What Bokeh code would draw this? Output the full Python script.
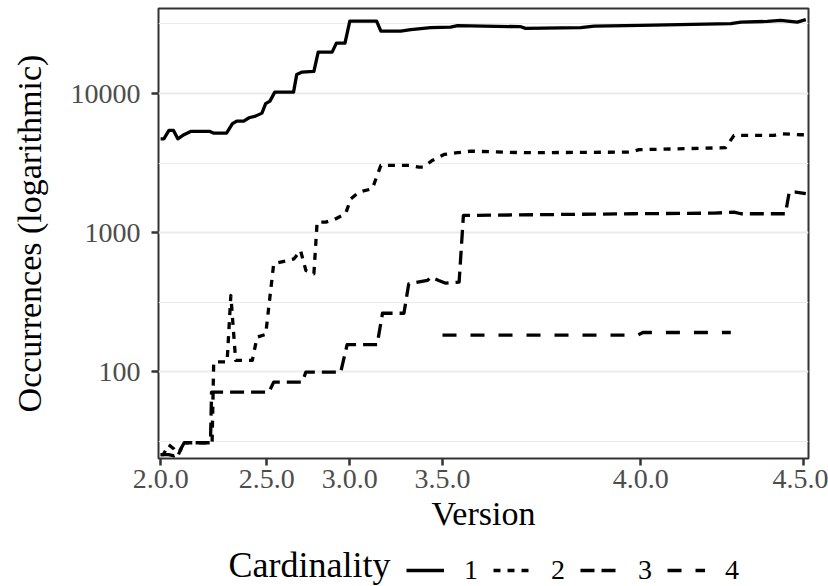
from bokeh.plotting import figure
from bokeh.models import FixedTicker, Legend, LegendItem, Grid, NumeralTickFormatter, Range1d, Label
from bokeh.layouts import column
from bokeh.embed import file_html
from bokeh.resources import INLINE

# ---- data: release position (ordered release axis) and occurrences per cardinality ----
release_c1 = [0, 0.6, 1.55, 2.4, 3.2, 4.35, 5.6, 9.2, 9.95, 12.3, 13.4, 14.2, 15.5, 16.5, 17.7,
              18.9, 19.6, 20.4, 21.3, 24.8, 25.4, 26.4, 28.6, 29.4, 32.0, 32.8, 34.4, 35.3,
              40.3, 41.1, 44.8, 46.7, 50.4, 54.1, 55.4, 67.2, 68.1, 78.4, 80.9, 89.6, 106.4,
              108.3, 113.2, 115.7, 118.8, 120.4]
occurrences_c1 = [4730, 4730, 5430, 5430, 4730, 5060, 5340, 5340, 5190, 5190, 6070, 6340, 6340,
                  6700, 6880, 7230, 8450, 8820, 10230, 10230, 13720, 14250, 14420, 19840, 19840,
                  23020, 23020, 33120, 33120, 28070, 28070, 28730, 29700, 29980, 30690, 30190,
                  29350, 29700, 30490, 30860, 31720, 32590, 32950, 33490, 32590, 33900]

release_c2 = [0, 0.5, 1.5, 2.5, 3.3, 4.4, 9.6, 9.9, 12.4, 13.1, 14.0, 17.1, 18.0, 19.6, 21.1,
              23.3, 24.9, 26.1, 27.1, 28.6, 29.2, 30.8, 32.3, 34.5, 35.5, 37.0, 39.5, 41.1,
              46.6, 48.2, 49.0, 50.7, 52.9, 55.4, 57.9, 67.8, 87.7, 89.3, 105.4, 107.0, 114.5,
              115.7, 119.4, 120.4]
occurrences_c2 = [25.5, 25.5, 30, 28, 25.5, 31, 31, 118, 118, 354, 121, 121, 178, 186, 599,
                  625, 650, 746, 536, 508, 1192, 1192, 1240, 1369, 1754, 1957, 2071, 3045,
                  3045, 2959, 2959, 3307, 3652, 3756, 3855, 3756, 3795, 3948, 4080, 5000, 5000,
                  5142, 5058, 5058]

release_c3 = [0, 1.5, 2.5, 3.3, 4.4, 9.3, 9.5, 20.2, 21.1, 26.4, 27.1, 33.6, 34.8, 40.4, 41.4,
              45.4, 46.3, 49.8, 50.4, 51.9, 53.2, 55.7, 56.5, 88.3, 103.3, 107.0, 108.3, 116.6,
              117.3, 118.5, 120.4]
occurrences_c3 = [25.5, 25.5, 25, 26, 31, 31, 71.6, 71.6, 84.5, 84.5, 99.7, 99.7, 157, 157, 264,
                  264, 430, 454, 480, 454, 434, 442, 1331, 1369, 1383, 1406, 1369, 1369,
                  1957, 1957, 1906]

release_c4 = [52.6, 74.0, 89.0, 90.0, 106.4]
occurrences_c4 = [184, 184, 184, 192, 192]

version_ticks = [0, 19.8, 35.3, 52.6, 89.6, 120]
version_labels = ["2.0.0", "2.5.0", "3.0.0", "3.5.0", "4.0.0", "4.5.0"]
y_major_ticks = [100, 1000, 10000]
y_minor_ticks = [31.62, 316.2, 3162.3, 31623]
cardinalities = ["1", "2", "3", "4"]
dashes = ["solid", "7 7", "14 7", "14 14"]
legend_title = "Cardinality"

FONT = "Liberation Serif"
LW = 3.3

series = [(release_c1, occurrences_c1), (release_c2, occurrences_c2),
          (release_c3, occurrences_c3), (release_c4, occurrences_c4)]

# ---------------- main plot ----------------
p = figure(width=828, height=542, x_range=Range1d(-0.4, 120.9), y_range=Range1d(23.9, 40800),
           y_axis_type="log", output_backend="svg", toolbar_location=None,
           min_border_left=158, min_border_right=20, min_border_top=8, min_border_bottom=84,
           background_fill_color="white", border_fill_color="white")

p.outline_line_color = "#333333"
p.outline_line_width = 2

xa = p.xaxis[0]
xa.ticker = FixedTicker(ticks=version_ticks)
xa.major_label_overrides = dict(zip(version_ticks, version_labels))
xa.axis_label = "Version"
ya = p.yaxis[0]
ya.ticker = FixedTicker(ticks=y_major_ticks)
ya.formatter = NumeralTickFormatter(format="0")
ya.axis_label = "Occurrences (logarithmic)"
for ax in (xa, ya):
    ax.axis_line_color = None
    ax.major_tick_line_color = "#333333"
    ax.major_tick_line_width = 2.5
    ax.major_tick_out = 7
    ax.major_tick_in = 0
    ax.minor_tick_line_color = None
    ax.major_label_text_font = FONT
    ax.major_label_text_font_size = "28px"
    ax.major_label_text_color = "#4D4D4D"
    ax.axis_label_text_font = FONT
    ax.axis_label_text_font_size = "34px"
    ax.axis_label_text_font_style = "normal"
    ax.axis_label_text_color = "black"
xa.major_label_standoff = 4
xa.axis_label_standoff = 4
ya.major_label_standoff = 11
ya.axis_label_standoff = 20

p.xgrid.visible = False
p.ygrid.ticker = FixedTicker(ticks=y_major_ticks)
p.ygrid.grid_line_color = "#EBEBEB"
p.ygrid.grid_line_width = 2
minor_grid = Grid(dimension=1, ticker=FixedTicker(ticks=y_minor_ticks),
                  grid_line_color="#EBEBEB", grid_line_width=1.2)
p.add_layout(minor_grid)

for (xs, ys), dash in zip(series, dashes):
    p.line(xs, ys, line_color="black", line_width=LW, line_join="round", line_dash=dash)

# ---------------- legend strip (its frame is aligned with the main frame) ----------------
p2 = figure(width=828, height=44, output_backend="svg", toolbar_location=None,
            x_axis_location=None, y_axis_location=None,
            x_range=Range1d(-3, -2), y_range=Range1d(-3, -2),
            min_border_left=158, min_border_right=20, min_border_top=0, min_border_bottom=0,
            outline_line_color=None, background_fill_color="white", border_fill_color="white")
p2.xgrid.visible = False
p2.ygrid.visible = False
# same series in the strip, outside its visible ranges: only their legend keys show
keys = [p2.line(xs, ys, line_color="black", line_width=LW, line_dash=dash)
        for (xs, ys), dash in zip(series, dashes)]

legend = Legend(items=[LegendItem(label=c, renderers=[r]) for c, r in zip(cardinalities, keys)],
                orientation="horizontal", location=(248, 0))
legend.label_text_font = FONT
legend.label_text_font_size = "28px"
legend.label_text_color = "black"
legend.label_standoff = 20
legend.label_width = 8
legend.spacing = 15
legend.glyph_width = 38
legend.glyph_height = 20
legend.border_line_color = None
legend.background_fill_alpha = 0
legend.padding = 2
legend.margin = 0
p2.add_layout(legend)

title_label = Label(x=70, y=22, x_units="screen", y_units="screen", text=legend_title,
                    text_font=FONT, text_font_size="36px", text_color="black",
                    text_baseline="middle", text_align="left")
p2.add_layout(title_label)

layout = column(p, p2, spacing=0)
open("out.html", "w").write(file_html(layout, INLINE))
